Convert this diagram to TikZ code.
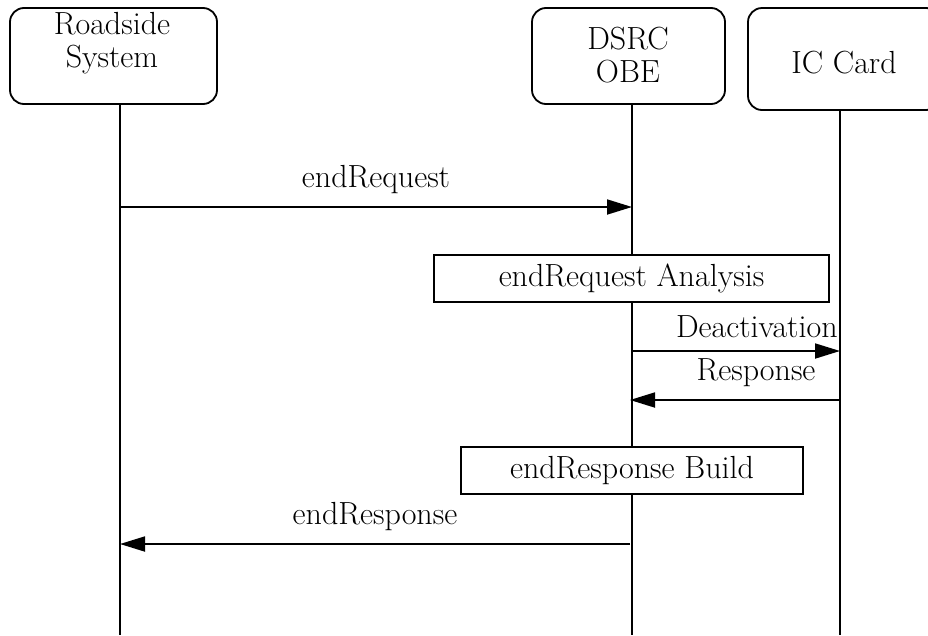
\documentclass[tikz,border=0pt]{standalone}
\usepackage{fontspec}
\usetikzlibrary{arrows.meta}

\tikzset{
  actor/.style={draw, line width=1.8pt, rounded corners=14pt, inner sep=0pt},
  actortext/.style={align=center, inner sep=0pt},
  task/.style={draw, fill=white, line width=1.8pt, minimum height=47pt, inner sep=0pt},
  life/.style={line width=1.8pt},
  msg/.style={line width=1.8pt, -{Triangle[length=25pt,width=15pt]}},
  msgtext/.style={anchor=base, inner sep=0pt, yshift=20pt}
}

\begin{document}
\begin{tikzpicture}[x=1pt, y=-1pt]

  \fontsize{32}{33}\selectfont

  \useasboundingbox (0,0) rectangle (928,635);
  \clip (0,0) rectangle (928,635);

  %% actors
  \node[actor, minimum width=207pt, minimum height=96pt] (rs) at (113.5,56) {};
  \node[actortext] (rstext) at (112,43) {Roadside\\System};
  \node[actor, minimum width=193pt, minimum height=96pt] (obe) at (628.5,56) {};
  \node[actortext] (obetext) at (628,55.5) {DSRC\\OBE};
  \node[actor, minimum width=192pt, minimum height=102pt] (card) at (844,59) {};
  \node[actortext] (cardtext) at (844,63) {IC Card};

  %% life lines
  \coordinate (rsend) at (120,635);
  \coordinate (obeend) at (632,635);
  \coordinate (cardend) at (840,635);
  \draw[life] (rs.south -| rsend) -- (rsend);
  \draw[life] (obe.south -| obeend) -- (obeend);
  \draw[life] (card.south -| cardend) -- (cardend);

  %% points on the life lines
  \coordinate (rs1) at (120,207);
  \coordinate (obe1) at (632,207);
  \coordinate (obe2) at (632,351);
  \coordinate (card2) at (840,351);
  \coordinate (card3) at (840,400);
  \coordinate (obe3) at (630,400);
  \coordinate (obe4) at (630,544);
  \coordinate (rs4) at (120,544);

  %% processing on the OBE
  \node[task, minimum width=395pt] (analysis) at (631.5,278.5) {endRequest Analysis};
  \node[task, minimum width=342pt] (build) at (632,470.5) {endResponse Build};

  %% messages
  \draw[msg] (rs1) -- node[msgtext]{endRequest} (obe1); %% RS->OBE
  \draw[msg] (obe2) -- node[msgtext, pos=0.6, yshift=-6pt]{Deactivation} (card2); %% OBE->card
  \draw[msg] (card3) -- node[msgtext, pos=0.4]{Response} (obe3); %% card->OBE
  \draw[msg] (obe4) -- node[msgtext]{endResponse} (rs4); %% OBE->RS
\end{tikzpicture}
\end{document}
